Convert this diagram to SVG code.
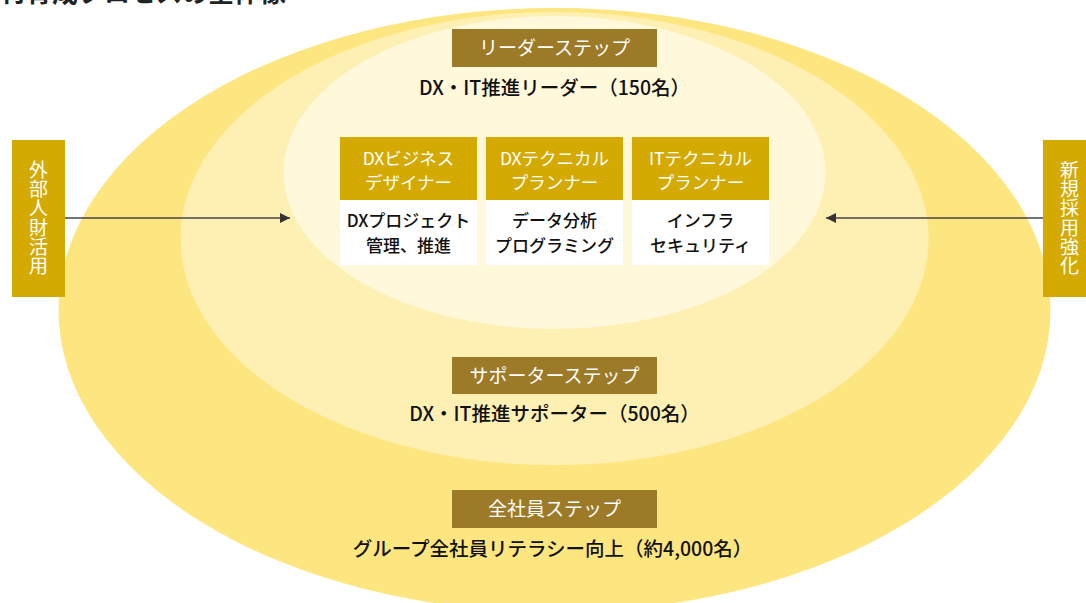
<svg xmlns="http://www.w3.org/2000/svg" width="1086" height="603" viewBox="0 0 1086 603">
<defs>
<style>
text{font-family:"Noto Sans CJK JP","Noto Sans",sans-serif;}
.title{font-size:26px;font-weight:700;fill:#222;}
.step{fill:#9c7a28;}
.steptxt{font-size:19px;fill:#fff;text-anchor:middle;}
.lbl{font-size:19.5px;font-weight:500;fill:#111;text-anchor:middle;}
.hd{fill:#d4a900;}
.hdtxt{font-size:17.5px;fill:#fff;text-anchor:middle;}
.body{fill:#fff;}
.bdtxt{font-size:17px;font-weight:500;fill:#111;text-anchor:middle;}
.side{fill:#d4a900;}
.sidetxt{font-size:19px;fill:#fff;writing-mode:vertical-rl;letter-spacing:0.3px;}
.conn{stroke:#444;stroke-width:1.5;fill:none;}
</style>
<marker id="arr" viewBox="0 0 10 10" refX="10" refY="5" markerWidth="10" markerHeight="11" markerUnits="userSpaceOnUse" orient="auto">
<path d="M0,0 L10,5 L0,10 z" fill="#333"/>
</marker>
</defs>
<rect width="1086" height="603" fill="#fff"/>
<text class="title" x="0" y="2">材育成プロセスの全体像</text>
<g id="ellipses">
<ellipse cx="554.5" cy="310" rx="496" ry="302" fill="#fde680"/>
<ellipse cx="554.5" cy="238.5" rx="374" ry="226.5" fill="#fef0b3"/>
<ellipse cx="554.5" cy="172.5" rx="271" ry="156.5" fill="#fff8db"/>
</g>
<g id="leader-step">
<rect class="step" x="452" y="29" width="205" height="38"/>
<text class="steptxt" x="554.5" y="55">リーダーステップ</text>
<text class="lbl" x="554.5" y="95">DX・IT推進リーダー（150名）</text>
</g>
<g id="role-dx-business">
<rect class="hd" x="340" y="137" width="137" height="63"/>
<rect class="body" x="340" y="200" width="137" height="65"/>
<text class="hdtxt" x="408.5" y="165">DXビジネス</text>
<text class="hdtxt" x="408.5" y="189">デザイナー</text>
<text class="bdtxt" x="408.5" y="227">DXプロジェクト</text>
<text class="bdtxt" x="408.5" y="252">管理、推進</text>
</g>
<g id="role-dx-technical">
<rect class="hd" x="486" y="137" width="137" height="63"/>
<rect class="body" x="486" y="200" width="137" height="65"/>
<text class="hdtxt" x="554.5" y="165">DXテクニカル</text>
<text class="hdtxt" x="554.5" y="189">プランナー</text>
<text class="bdtxt" x="554.5" y="227">データ分析</text>
<text class="bdtxt" x="554.5" y="252">プログラミング</text>
</g>
<g id="role-it-technical">
<rect class="hd" x="632" y="137" width="137" height="63"/>
<rect class="body" x="632" y="200" width="137" height="65"/>
<text class="hdtxt" x="700.5" y="165">ITテクニカル</text>
<text class="hdtxt" x="700.5" y="189">プランナー</text>
<text class="bdtxt" x="700.5" y="227">インフラ</text>
<text class="bdtxt" x="700.5" y="252">セキュリティ</text>
</g>
<g id="supporter-step">
<rect class="step" x="452" y="357" width="205" height="37"/>
<text class="steptxt" x="554.5" y="383">サポーターステップ</text>
<text class="lbl" x="554.5" y="421">DX・IT推進サポーター（500名）</text>
</g>
<g id="all-step">
<rect class="step" x="452" y="490" width="205" height="38"/>
<text class="steptxt" x="554.5" y="516">全社員ステップ</text>
<text class="lbl" x="552.5" y="556">グループ全社員リテラシー向上（約4,000名）</text>
</g>
<g id="external">
<rect class="side" x="12" y="140" width="53" height="157"/>
<text class="sidetxt" x="38.5" y="160">外部人財活用</text>
</g>
<g id="new-hire">
<rect class="side" x="1043" y="140" width="53" height="157"/>
<text class="sidetxt" x="1069.5" y="160">新規採用強化</text>
</g>
<g id="connectors">
<line class="conn" x1="65" y1="218" x2="290" y2="218" marker-end="url(#arr)"/>
<line class="conn" x1="1043" y1="218" x2="826" y2="218" marker-end="url(#arr)"/>
</g>
</svg>
